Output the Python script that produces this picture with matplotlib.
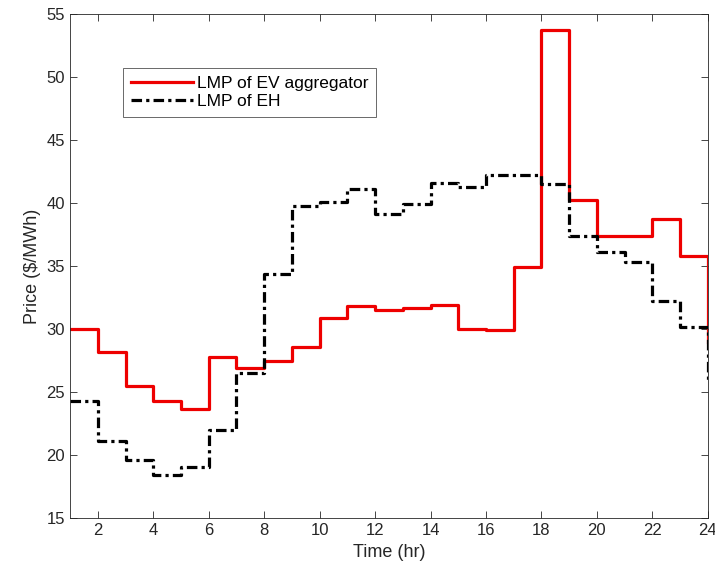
import matplotlib.pyplot as plt
import numpy as np

plt.rcParams['font.family'] = ['Liberation Sans', 'DejaVu Sans']

hours = np.arange(1, 25)
lmp_ev = [30.0, 28.2, 25.5, 24.3, 23.7, 27.8, 26.9, 27.5, 28.6, 30.9, 31.85, 31.5,
          31.7, 31.9, 30.0, 29.9, 34.9, 53.7, 40.2, 37.4, 37.4, 38.7, 35.8, 29.0]
lmp_eh = [24.3, 21.1, 19.6, 18.4, 19.1, 22.0, 26.5, 34.4, 39.8, 40.1, 41.1, 39.1,
          39.9, 41.6, 41.25, 42.2, 42.2, 41.5, 37.4, 36.1, 35.3, 32.25, 30.2, 25.8]

fig = plt.figure(figsize=(7.15, 5.79), dpi=100)
ax = fig.add_axes([0.098, 0.105, 0.892, 0.871])

ax.step(hours, lmp_ev, where='post', color='#ee0000', lw=2.3, label='LMP of EV aggregator')
ax.step(hours, lmp_eh, where='post', color='black', lw=2.3,
        linestyle=(0, (3.3, 1.3, 1.0, 1.3)), label='LMP of EH')

ax.set_xlim(1, 24)
ax.set_ylim(15, 55)
ax.set_xticks(np.arange(2, 25, 2))
ax.set_yticks(np.arange(15, 56, 5))
ax.tick_params(direction='in', top=True, right=True, labelsize=12, colors='#262626',
               length=5, width=0.6)
for s in ax.spines.values():
    s.set_color('#262626')
    s.set_linewidth(0.6)

ax.set_xlabel('Time (hr)', fontsize=13, color='#262626')
ax.set_ylabel('Price ($/MWh)', fontsize=13, color='#262626')

leg = ax.legend(loc='upper left', bbox_to_anchor=(0.083, 0.893), fontsize=12.5,
                frameon=True, fancybox=False, handlelength=3.6, handletextpad=0.2,
                borderpad=0.45, labelspacing=0.2, borderaxespad=0)
leg.get_frame().set_edgecolor('#262626')
leg.get_frame().set_linewidth(0.6)

fig.savefig('out.png', dpi=100)
